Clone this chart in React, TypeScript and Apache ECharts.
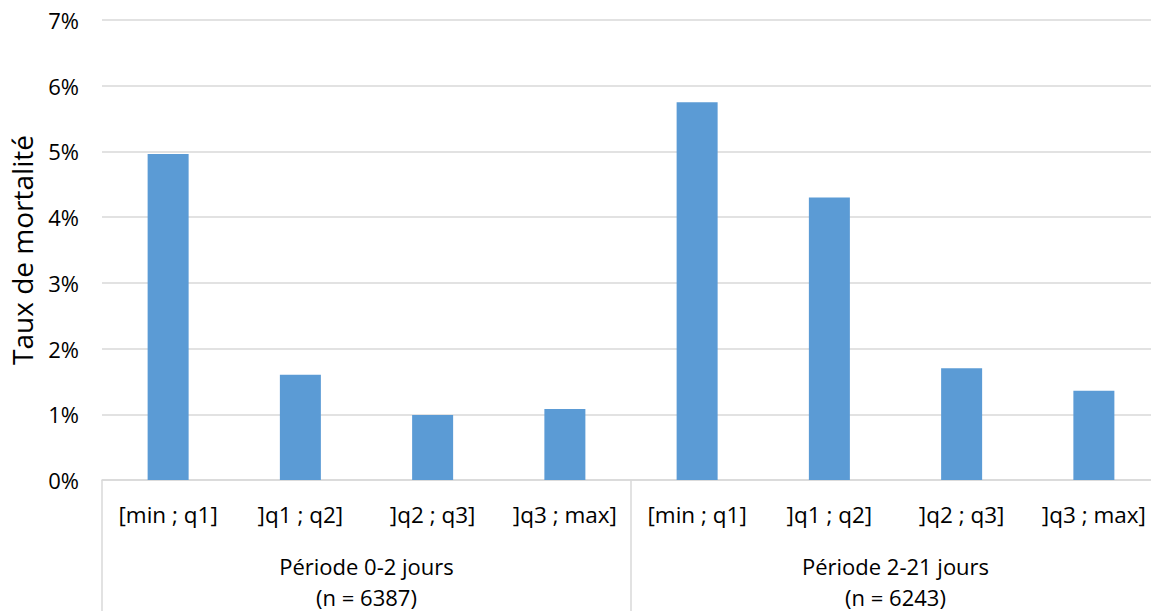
import React, { useEffect, useRef } from "react";
import * as echarts from "echarts";

const categories = [
  "[min ; q1]", "]q1 ; q2]", "]q2 ; q3]", "]q3 ; max]",
  "[min ; q1]", "]q1 ; q2]", "]q2 ; q3]", "]q3 ; max]",
];
const groups = ["Période 0-2 jours\n(n = 6387)", "Période 2-21 jours\n(n = 6243)"];
const mortality = [4.96, 1.6, 0.99, 1.08, 5.75, 4.3, 1.7, 1.36];
const yTicks = { min: 0, max: 7, interval: 1 };

const FONT = "Open Sans";

export default function App() {
  const ref = useRef<HTMLDivElement>(null);
  useEffect(() => {
    if (!ref.current) return;
    const chart = echarts.init(ref.current, undefined, { renderer: "svg" });
    chart.setOption({
      animation: false,
      textStyle: { fontFamily: FONT, color: "#000" },
      grid: { left: 100, top: 20, width: 1060, height: 461, containLabel: false },
      xAxis: [
        {
          type: "category",
          data: categories,
          position: "bottom",
          axisLine: { show: true, lineStyle: { color: "#d9d9d9", width: 1.5 } },
          axisTick: { show: false },
          axisLabel: { fontFamily: FONT, fontSize: 22.5, color: "#000", margin: 23, interval: 0 },
        },
        {
          type: "category",
          data: groups,
          position: "bottom",
          axisLine: { show: false },
          axisTick: { show: true, length: 131, lineStyle: { color: "#d9d9d9", width: 1.5 } },
          axisLabel: { fontFamily: FONT, fontSize: 22, color: "#000", margin: 70, lineHeight: 31, interval: 0 },
        },
      ],
      yAxis: {
        type: "value",
        min: yTicks.min,
        max: yTicks.max,
        interval: yTicks.interval,
        name: "Taux de mortalité",
        nameLocation: "middle",
        nameGap: 66,
        nameTextStyle: { fontFamily: FONT, fontSize: 28, color: "#000" },
        axisLine: { show: false },
        axisTick: { show: false },
        axisLabel: { formatter: "{value}%", fontFamily: FONT, fontSize: 22, color: "#000", margin: 23 },
        splitLine: { lineStyle: { color: "#d9d9d9", width: 1.5 } },
      },
      series: [
        {
          type: "bar",
          xAxisIndex: 0,
          data: mortality,
          barWidth: 41,
          itemStyle: { color: "#5b9bd5" },
        },
      ],
    });
    return () => chart.dispose();
  }, []);
  return (
    <div style={{ position: "fixed", left: 0, top: 0, width: 1151, height: 612, overflow: "hidden", background: "#fff" }}>
      <div ref={ref} style={{ width: 1170, height: 612 }} />
    </div>
  );
}
